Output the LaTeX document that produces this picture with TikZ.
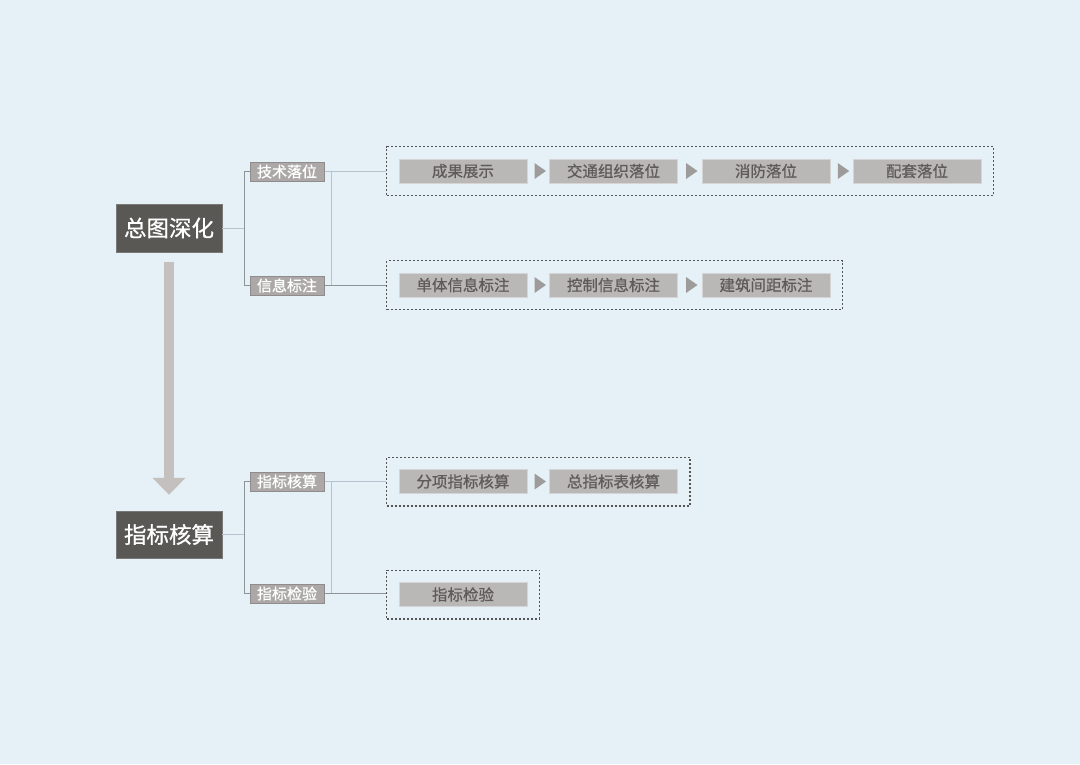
\documentclass[tikz,border=0pt]{standalone}
\usepackage{fontspec}
\setmainfont{Noto Sans CJK SC}
\newfontfamily\zxmed[FakeBold=0.8]{Noto Sans CJK SC}
\usepackage{xcolor}
\usetikzlibrary{shapes.geometric,arrows.meta,positioning,calc,fit}
\definecolor{zxbg}{HTML}{E6F0F7}
\definecolor{zxdark}{HTML}{5A5855}
\definecolor{zxsub}{HTML}{ABA8A7}
\definecolor{zxsubline}{HTML}{8F8C8B}
\definecolor{zxitem}{HTML}{BAB7B7}
\definecolor{zxtext}{HTML}{5E5B5A}
\definecolor{zxtri}{HTML}{9E9B9B}
\definecolor{zxarrow}{HTML}{C3C0BD}
\definecolor{zxtrunk}{HTML}{8E9398}
\definecolor{zxfaint}{HTML}{B6C4CF}
\definecolor{zxdash}{HTML}{555555}
\tikzset{
  topic/.style={rectangle,fill=zxdark,draw=zxdark!80!white,minimum width=106pt,minimum height=48pt,
                inner sep=0pt,font=\zxmed\fontsize{22.5}{24}\selectfont,text=white},
  sub/.style={rectangle,fill=zxsub,draw=zxsubline,line width=1pt,minimum width=74pt,minimum height=19pt,
              inner sep=0pt,font=\zxmed\fontsize{15}{16}\selectfont,text=white},
  item/.style={rectangle,fill=zxitem,draw=zxitem!60!white,line width=0.6pt,minimum width=128pt,minimum height=24pt,
               inner sep=0pt,font=\zxmed\fontsize{15.5}{17}\selectfont,text=zxtext},
  tri/.style={isosceles triangle,isosceles triangle apex angle=70,fill=zxtri,inner sep=0pt,
              minimum height=10pt,minimum width=16pt,sloped},
  group/.style={draw=zxdash,line width=1.4pt,dash pattern=on 2pt off 2pt,inner xsep=12pt,inner ysep=12pt},
  trunk/.style={draw=zxtrunk,line width=1pt},
  faint/.style={draw=zxfaint,line width=1pt},
  bigarrow/.style={-{Triangle[length=17pt,width=32pt]},draw=zxarrow,line width=10pt},
}

\begin{document}
\begin{tikzpicture}[x=1pt,y=-1pt]
\fill[zxbg] (0,0) rectangle (1080,764);
\useasboundingbox (0,0) rectangle (1080,764);

% main topics
\node[topic] (deep) at (169,228) {总图深化};
\node[topic,minimum height=47pt] (calc) at (169,534.5) {指标核算};
\draw[bigarrow,shorten <=10pt,shorten >=16pt] (deep) -- (calc);

% sub topics
\node[sub] (tech) at (287,171.5) {技术落位};
\node[sub] (info) at (287,285.5) {信息标注};
\node[sub] (idx) at (287,481.5) {指标核算};
\node[sub] (chk) at (287,593.5) {指标检验};

% steps
\node[item] (a1) at (463,171) {成果展示};
\node[item] (a2) at (613.5,171) {交通组织落位};
\node[item] (a3) at (766,171) {消防落位};
\node[item] (a4) at (917,171) {配套落位};
\node[item] (b1) at (463,285) {单体信息标注};
\node[item] (b2) at (613.5,285) {控制信息标注};
\node[item] (b3) at (766,285) {建筑间距标注};
\node[item] (c1) at (463,481.5) {分项指标核算};
\node[item] (c2) at (613.5,481.5) {总指标表核算};
\node[item] (d1) at (463,594.5) {指标检验};

\foreach \u/\v in {a1/a2,a2/a3,a3/a4,b1/b2,b2/b3,c1/c2}
  \path (\u) -- node[tri,pos=0.52]{} (\v);

% dashed groups
\node[group,fit=(a1)(a4)] (ga) {};
\node[group,fit=(b1)(b3)] (gb) {};
\node[group,fit=(c1)(c2)] (gc) {};
\node[group,fit=(d1)] (gd) {};

% connectors
\draw[faint] (deep.east) -- ++(23,0) coordinate (j1);
\draw[trunk] (tech.west) -- ++(-5,0) |- (info.west);
\draw[faint] (calc.east) -- ++(23,0) coordinate (j2);
\draw[trunk] (idx.west) -- ++(-5,0) |- (chk.west);

\draw[faint] (tech.east) -- (tech.east -| ga.west);
\draw[faint] ($(tech.east)+(7,0)$) -- ($(info.east)+(7,0)$);
\draw[trunk] (info.east) -- (info.east -| gb.west);
\draw[faint] (idx.east) -- (idx.east -| gc.west);
\draw[faint] ($(idx.east)+(7,0)$) -- ($(chk.east)+(7,0)$);
\draw[trunk] (chk.east) -- (chk.east -| gd.west);
\end{tikzpicture}
\end{document}
